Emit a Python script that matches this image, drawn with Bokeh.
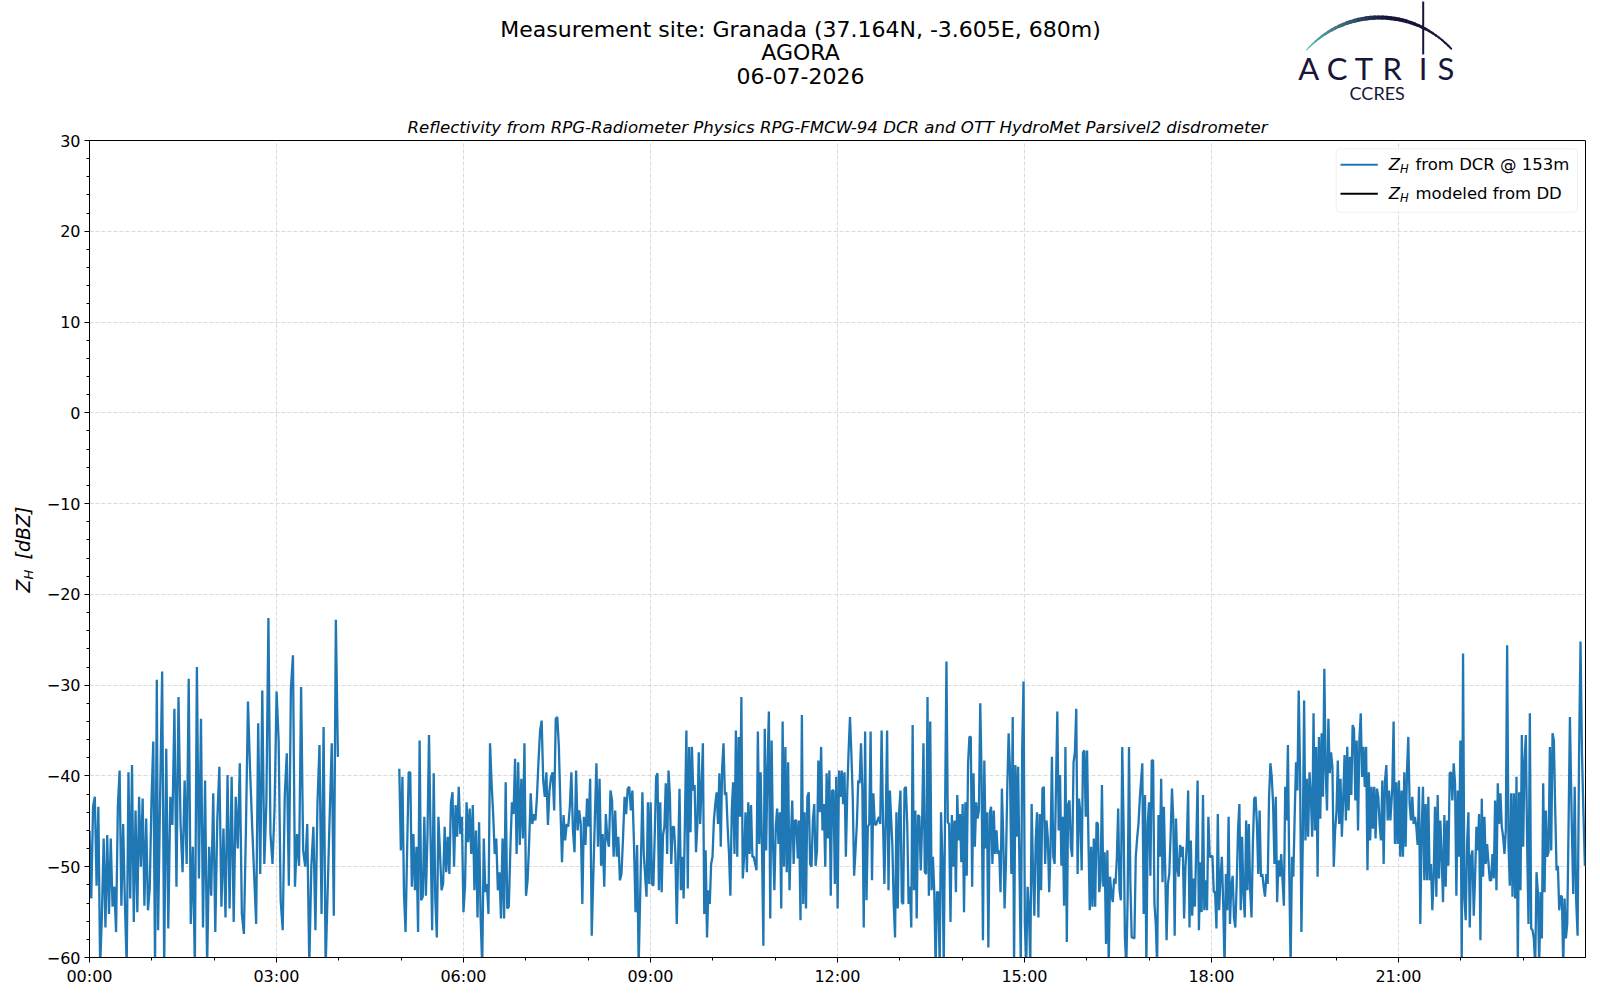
import numpy as np
from bokeh.plotting import figure
from bokeh.models import Range1d, FixedTicker, Label, BoxAnnotation, ColumnDataSource
from bokeh.layouts import column, row
from bokeh.embed import file_html
from bokeh.resources import INLINE
from bokeh.core.properties import value

# ---------------- data ----------------
title_lines = ["Measurement site: Granada (37.164N, -3.605E, 680m)", "AGORA", "06-07-2026"]
subtitle = "Reflectivity from RPG-Radiometer Physics RPG-FMCW-94 DCR and OTT HydroMet Parsivel2 disdrometer"
legend_dcr = "from DCR @ 153m"
legend_dd = "modeled from DD"

# time span (hours of day) of each recorded block of samples
seg_bounds = [(0.0, 1.08), (1.10, 3.985), (4.97, 8.81), (8.87, 12.84),
              (12.88, 16.85), (16.89, 20.87), (20.90, 23.75), (23.78, 23.99)]
gap_after_segment = 1  # no DCR data between ~04:00 and ~05:00

zh_s1a = [-46.0,-53.5,-43.4,-42.3,-52.1,-43.4,-61,-55.4,-46.9,-56.7,-46.5,-55.2,-46.9,-54.4,-52.2,-57.2,-43.4,-39.4,-54.3,-45.3,
          -54.1,-61,-39.6,-53.5,-38.8,-56.1,-43.8,-55.0,-42.3,-50.0,-42.5,-54.3,-44.7,-54.8,-52.4,-42.7,-36.2,-61,-29.4]
zh_s1b = [-57.0,-42.3,-28.5,-61,-37.0,-56.8,-42.3,-45.4,-32.6,-52.2,-31.3,-45.3,-50.6,-40.5,-49.7,-29.3,-56.3,-47.8,-61,-28.0,
          -51.3,-33.7,-56.7,-40.5,-61,-47.8,-53.2,-41.9,-57.2,-44.7,-39.0,-54.4,-45.8,-55.6,-39.9,-54.6,-40.1,-56.1,-42.3,-48.0,
          -38.6,-55.2,-57.4,-45.8,-31.8,-39.2,-45.3,-50.8,-56.3,-34.2,-50.8,-30.6,-49.7,-43.0,-22.6,-46.4,-49.7,-43.6,-30.7,-36.1,
          -53.7,-57.0,-42.1,-37.5,-52.1,-30.4,-26.7,-52.2,-46.4,-49.9,-30.2,-48.2,-50.0,-45.3,-61,-50.0,-45.6,-57.0,-43.0,-36.6,
          -55.2,-34.6,-61,-52.6,-44.2,-36.4,-55.4,-22.8,-37.9]
zh_s2 = [-39.2,-48.2,-40.1,-53.0,-57.2,-48.2,-39.6,-39.6,-52.2,-46.4,-52.6,-47.8,-57.2,-36.1,-53.7,-53.3,-44.5,-53.2,-46.7,-35.5,
         -46.7,-57.0,-39.7,-53.5,-57.8,-44.5,-48.4,-52.6,-51.9,-45.6,-50.6,-46.7,-50.8,-43.0,-41.8,-50.0,-43.2,-46.7,-41.2,-46.4,
         -44.5,-55.0,-52.2,-42.9,-47.3,-43.6,-48.6,-43.2,-52.6,-46.0,-55.6,-45.1,-55.7,-61,-46.9,-52.8,-51.9,-55.2,-36.4,-40.8,
         -44.2,-48.6,-46.9,-52.6,-50.6,-55.7,-46.9,-55.7,-40.7,-54.6,-54.4,-48.0,-42.9,-44.2,-38.1,-48.6,-38.5,-47.6,-40.3,-46.9,
         -36.4,-53.2,-51.5,-47.3,-41.9,-45.3,-44.2,-44.9,-42.3,-38.3,-35.0,-33.9,-40.5,-42.3,-39.6,-45.4,-41.6,-40.1,-39.6,-43.8,
         -33.7,-33.5,-36.8,-43.4,-49.5,-44.3,-47.1,-45.3,-45.6,-43.4,-39.6,-46.0,-48.4,-39.4,-46.0,-43.8,-45.3,-54.1,-44.5,-47.6,
         -42.5,-45.6,-40.3,-57.6,-51.1,-44.7,-38.6,-47.8,-40.3,-49.9,-46.4,-52.2,-44.2,-46.9,-47.8,-41.6,-42.7,-48.9,-43.8,-48.9,
         -46.7,-51.5,-50.8,-46.9,-42.3,-44.2,-41.4,-41.2,-43.8,-41.6,-47.4,-55.0,-47.6,-61]
zh_s3 = [-41.8,-48.6,-51.0,-53.3,-42.9,-51.9,-42.9,-51.9,-52.1,-46.4,-40.1,-39.7,-52.6,-42.9,-52.8,-46.5,-45.6,-40.8,-48.6,-39.4,
         -42.1,-49.7,-45.6,-45.6,-48.6,-56.3,-48.9,-41.4,-52.6,-48.9,-53.5,-44.3,-35.0,-52.4,-36.8,-46.2,-36.8,-41.6,-41.0,-48.4,
         -45.3,-37.4,-45.3,-41.2,-36.4,-55.2,-48.2,-57.8,-52.6,-54.1,-49.7,-48.9,-44.9,-43.1,-41.8,-45.3,-39.7,-47.8,-39.2,-36.4,
         -42.1,-41.8,-45.6,-48.6,-53.2,-43.8,-40.7,-48.6,-35.0,-48.9,-35.7,-44.5,-31.3,-51.3,-48.9,-44.0,-50.6,-42.9,-48.6,-43.2,
         -48.9,-48.9,-49.7,-50.4,-35.1,-47.5,-39.6,-48.0,-58.7,-34.8,-48.2,-39.2,-32.9,-55.7,-36.1,-47.5,-52.6,-45.6,-43.6,-47.5,
         -44.0,-54.6,-34.0,-50.0,-36.8,-50.6,-38.5,-52.6,-46.7,-42.7,-49.7,-44.9,-44.9,-49.1,-44.9,-55.9,-33.3,-54.1,-44.0,-54.6,
         -42.3,-41.8,-49.7,-50.0,-44.9,-43.1,-49.9,-48.2,-38.3,-44.0,-36.8,-46.0,-43.1,-50.0,-39.7,-46.9,-39.4,-53.2,-41.6,-41.6,
         -51.9,-40.1,-54.6,-39.4,-42.3,-39.4,-43.1,-39.6,-48.9,-41.9,-37.2,-33.5,-37.5,-42.3,-51.0,-48.2,-45.3,-40.5,-40.8,-36.4,
         -41.4,-56.7,-35.1,-53.7,-45.6,-45.3,-35.1,-51.5,-41.9,-45.3,-45.4,-44.9,-44.5,-45.3,-35.0,-44.9,-51.9,-44.9,-35.0,-52.6,
         -41.6]
zh_s4 = [-47.6,-54.1,-57.8,-44.0,-54.6,-44.0,-41.6,-53.9,-54.1,-41.4,-41.2,-45.3,-54.1,-52.2,-56.7,-34.4,-52.6,-43.8,-55.7,-44.3,
         -44.5,-50.4,-45.3,-36.4,-50.6,-50.8,-31.3,-53.2,-34.0,-52.6,-48.9,-52.8,-61,-52.8,-52.8,-61,-44.0,-49.1,-61,-43.8,
         -27.4,-45.1,-45.3,-56.1,-44.3,-50.0,-44.9,-52.8,-42.1,-47.1,-44.2,-49.5,-43.1,-55.0,-42.9,-51.0,-38.6,-35.7,-35.7,-52.2,
         -39.7,-47.8,-42.9,-44.7,-43.8,-32.0,-40.1,-58.1,-38.3,-48.0,-44.0,-58.9,-44.2,-43.4,-49.7,-43.8,-48.6,-46.0,-48.6,-48.2,
         -52.8,-41.4,-46.7,-54.6,-49.7,-41.2,-35.3,-39.4,-50.8,-33.5,-61,-38.8,-46.7,-39.0,-50.0,-61,-37.2,-29.6,-56.3,-61,
         -52.2,-54.8,-61,-43.1,-50.4,-55.4,-47.1,-44.0,-55.6,-44.2,-52.6,-41.4,-41.2,-49.7,-44.9,-46.9,-52.8,-47.8,-37.9,-48.9,
         -49.7,-41.2,-32.9,-46.0,-39.9,-49.9,-44.5,-54.3,-36.8,-58.3,-43.1,-42.7,-47.8,-48.9,-38.5,-37.4,-32.6,-50.8,-42.5,-44.0,
         -50.4,-37.4,-37.2,-44.5,-37.2,-47.1,-54.8,-47.8,-54.4,-46.9,-54.4,-45.1,-45.3,-52.8,-51.5,-41.0,-52.2,-48.4,-58.5,-48.2,
         -61,-51.1,-53.0,-53.9,-51.3,-51.9,-49.1,-43.6,-52.6,-53.7,-36.8,-45.3,-57.9,-61,-53.5,-36.8,-51.7,-57.8,-57.8,-57.9,
         -48.9,-46.9,-45.3,-42.5]
zh_s5 = [-38.6,-55.2,-42.1,-61,-45.3,-42.9,-51.0,-38.3,-38.3,-54.1,-56.3,-61,-44.3,-48.9,-40.3,-51.7,-43.4,-50.4,-58.1,-51.9,
         -50.8,-46.5,-41.4,-44.9,-57.6,-44.7,-50.2,-51.1,-47.6,-48.9,-47.8,-55.7,-50.0,-47.5,-41.6,-56.7,-47.1,-55.4,-51.3,-54.4,
         -47.8,-40.5,-57.0,-49.5,-55.0,-42.1,-54.8,-51.5,-54.8,-44.5,-48.9,-48.9,-48.8,-52.8,-52.8,-56.8,-44.2,-54.8,-51.1,-48.9,
         -54.1,-61,-50.8,-54.8,-44.5,-56.3,-52.1,-51.0,-55.6,-56.7,-51.9,-46.0,-43.1,-54.8,-46.7,-53.0,-55.6,-44.9,-52.6,-45.3,
         -52.6,-55.6,-47.5,-42.5,-42.3,-45.3,-50.8,-43.8,-51.1,-50.8,-52.2,-53.3,-50.8,-51.9,-42.3,-38.6,-40.1,-43.1,-49.7,-42.3,
         -53.9,-49.3,-51.1,-48.6,-51.5,-54.3,-41.2,-44.9,-36.6,-50.8,-61,-48.9,-51.1,-44.5,-38.5,-41.6,-30.6,-39.4,-57.2,-47.5,
         -31.7,-47.1,-40.3,-46.7,-39.6,-42.3,-46.7,-33.1,-46.0,-36.8,-51.1,-35.7,-44.7,-35.3,-42.3,-28.2,-39.6,-43.8,-33.7,-39.7,
         -37.4,-39.0,-50.0,-46.0,-44.0,-38.3,-45.3,-40.3,-46.7,-42.5,-37.7,-44.9,-36.8,-43.8,-37.9,-42.1,-34.4,-34.8,-42.7,-36.1,
         -46.0,-36.1,-33.1,-40.1,-36.8,-41.2,-36.8,-50.4,-39.6,-47.1,-41.2,-45.8,-41.2,-46.9,-41.4,-42.3,-45.3,-47.1,-40.5,-49.7,
         -40.5,-38.8,-44.9,-41.6,-44.9]
zh_s6 = [-41.4,-34.0,-47.5,-40.7,-47.5,-40.5,-48.9,-41.6,-48.9,-39.6,-47.8,-39.6,-35.7,-43.1,-44.9,-42.3,-45.3,-44.5,-45.6,-47.6,
         -41.2,-56.3,-46.0,-41.2,-51.5,-43.1,-51.5,-42.3,-51.5,-49.7,-54.8,-51.1,-43.4,-53.3,-42.1,-51.3,-44.9,-48.9,-53.9,-44.3,
         -52.2,-44.9,-49.9,-39.7,-39.6,-42.7,-38.6,-40.8,-53.2,-41.6,-48.9,-36.1,-61,-26.5,-53.5,-55.9,-47.5,-44.0,-56.7,-48.9,
         -48.2,-55.4,-51.1,-45.6,-48.2,-44.2,-58.1,-42.5,-51.1,-44.5,-49.7,-47.5,-49.5,-51.5,-51.5,-48.6,-51.3,-42.7,-52.6,-40.8,
         -45.3,-41.9,-45.6,-46.7,-48.6,-46.0,-25.6,-47.5,-52.1,-41.9,-53.3,-41.9,-53.5,-40.1,-61,-41.8,-52.6,-35.5,-47.8,-38.3,
         -35.5,-47.8,-56.3,-33.1,-56.8,-57.0,-57.9,-61,-50.6,-52.8,-61,-52.8,-57.9,-40.8,-52.8,-43.8,-48.9,-48.4,-36.8,-48.2,
         -35.3,-36.1,-43.8,-50.4,-49.9,-54.8,-53.2,-53.3,-61,-53.5,-57.9,-56.3,-45.3,-33.5]
zh_s7 = [-45.4,-53.0,-41.2,-53.7,-57.6,-37.7,-25.2,-37.5,-44.0,-49.9]
zh_segments = [zh_s1a, zh_s1b, zh_s2, zh_s3, zh_s4, zh_s5, zh_s6, zh_s7]

x_major = [0, 3, 6, 9, 12, 15, 18, 21]
x_minor = list(range(0, 24))
y_major = [-60, -50, -40, -30, -20, -10, 0, 10, 20, 30]
y_minor = list(range(-60, 31, 2))

# ---------------- assemble series ----------------
t_all, z_all = [], []
for i, ((t0, t1), vals) in enumerate(zip(seg_bounds, zh_segments)):
    t_all.extend(np.linspace(t0, t1, len(vals)).tolist())
    z_all.extend(vals)
    if i == gap_after_segment:
        t_all.append(t1 + 0.02)
        z_all.append(float("nan"))
src = ColumnDataSource(dict(t=t_all, zh=z_all))

NAVY = "#17163a"
FONT = "DejaVu Sans"

# page geometry (px)
W = 1600
HDR_H = 112
FRAME_L, FRAME_W, FRAME_R = 89, 1496, 15
FRAME_T, FRAME_H, FRAME_B = 28, 817, 43
YLAB_W = 40
TOP = HDR_H + FRAME_T  # page y of the frame top (140)

# ---------------- header (titles + logo), coordinates = page pixels ----------------
hdr = figure(width=W, height=HDR_H, x_range=Range1d(FRAME_L, FRAME_L + FRAME_W),
             y_range=Range1d(HDR_H, 0), toolbar_location=None, output_backend="svg", title=None,
             x_axis_type=None, y_axis_type=None, min_border_left=FRAME_L, min_border_right=FRAME_R,
             min_border_top=0, min_border_bottom=0, outline_line_color=None)
hdr.xgrid.visible = False
hdr.ygrid.visible = False
hdr.text(x=[800, 800, 800], y=[29, 52, 75], text=title_lines, text_align="center",
         text_baseline="middle", text_font=value(FONT), text_font_size="22px", text_color="black")

# logo arc (decoration)
th = np.linspace(np.radians(138), np.radians(43), 41)
axs = 1379 + 98 * np.cos(th)
ays = 115 - 98 * np.sin(th)
teal = np.array([95, 190, 182])
navy = np.array([23, 22, 58])
xs, ys, cols, wds = [], [], [], []
for i in range(len(th) - 1):
    f = i / (len(th) - 2)
    m = min(f / 0.55, 1.0)
    c = (teal * (1 - m) + navy * m).astype(int)
    cols.append("#%02x%02x%02x" % tuple(c))
    wds.append(1.2 + 2.6 * np.sin(np.pi * min(f * 1.1, 1.0)) + 0.8 * f)
    xs.append([axs[i], axs[i + 1]])
    ys.append([ays[i], ays[i + 1]])
hdr.multi_line(xs=xs, ys=ys, line_color=cols, line_width=wds, line_cap="round")
hdr.segment(x0=[1422.7], y0=[1], x1=[1422.7], y1=[54], line_color=NAVY, line_width=2)
hdr.text(x=[1308.3, 1336.7, 1363.3, 1391.7, 1422.7, 1445.5], y=[67.0] * 6, text=list("ACTRIS"),
         text_align="center", text_baseline="middle", text_font=value("Lato"),
         text_font_size="31px", text_color=NAVY)
hdr.text(x=[1376.7], y=[92.5], text=["CCRES"], text_align="center", text_baseline="middle",
         text_font=value("Lato"), text_font_size="18px", text_color=NAVY)

# ---------------- y label strip, coordinates = page pixels ----------------
ylab = figure(width=YLAB_W, height=FRAME_T + FRAME_H + FRAME_B, x_range=Range1d(0, YLAB_W),
              y_range=Range1d(TOP + FRAME_H, TOP),
              toolbar_location=None, output_backend="svg", title=None,
              x_axis_type=None, y_axis_type=None, min_border_left=0, min_border_right=0,
              min_border_top=FRAME_T, min_border_bottom=FRAME_B, outline_line_color=None)
ylab.xgrid.visible = False
ylab.ygrid.visible = False
ykw = dict(angle=np.pi / 2, text_align="left", text_baseline="middle", text_font=value(FONT),
           text_color="black", text_font_style="italic")
ylab.text(x=[22.5], y=[592], text=["Z"], text_font_size="19px", **ykw)
ylab.text(x=[27.5], y=[579], text=["H"], text_font_size="13px", **ykw)
ylab.text(x=[22.5], y=[559], text=["[dBZ]"], text_font_size="19px", **ykw)

# ---------------- main plot ----------------
p = figure(frame_width=FRAME_W, frame_height=FRAME_H, x_range=Range1d(0, 24), y_range=Range1d(-60, 30),
           toolbar_location=None, output_backend="svg", title=subtitle,
           min_border_left=FRAME_L - YLAB_W, min_border_right=FRAME_R,
           min_border_top=FRAME_T, min_border_bottom=FRAME_B,
           background_fill_color="white", border_fill_color="white")
p.title.align = "center"
p.title.text_font = FONT
p.title.text_font_size = "16.6px"
p.title.text_font_style = "italic"
p.title.text_color = "black"
p.title.standoff = 7
p.line(x="t", y="zh", source=src, line_color="#1f77b4", line_width=2.3)

p.xaxis.ticker = FixedTicker(ticks=x_major, minor_ticks=x_minor)
p.yaxis.ticker = FixedTicker(ticks=y_major, minor_ticks=y_minor)
p.xaxis.major_label_overrides = {h: "%02d:00" % h for h in x_major}
p.yaxis.major_label_overrides = {v: ("\u2212%d" % -v if v < 0 else "%d" % v) for v in y_major}
for ax in (p.xaxis, p.yaxis):
    ax.axis_line_color = "black"
    ax.axis_line_width = 1
    ax.major_tick_in = 0
    ax.major_tick_out = 5
    ax.minor_tick_in = 0
    ax.minor_tick_out = 3
    ax.major_tick_line_color = "black"
    ax.minor_tick_line_color = "black"
    ax.major_label_text_font = FONT
    ax.major_label_text_font_size = "16px"
    ax.major_label_text_color = "black"
    ax.major_label_standoff = 4
p.outline_line_color = "black"
p.outline_line_width = 1
p.outline_line_alpha = 1
for g in (p.xgrid, p.ygrid):
    g.grid_line_color = "#d0d0d0"
    g.grid_line_dash = "4 2"
    g.grid_line_width = 0.8

# legend (manual, to allow subscripts); screen units relative to the frame
p.add_layout(BoxAnnotation(left=1246.7, right=1488, bottom=745.3, top=808.7,
                           left_units="screen", right_units="screen",
                           top_units="screen", bottom_units="screen",
                           fill_color="white", fill_alpha=0.8, line_color="#cccccc",
                           line_width=1, border_radius=4, level="overlay"))
for yc, col, txt in [(792.7, "#1f77b4", legend_dcr), (763.7, "black", legend_dd)]:
    p.add_layout(BoxAnnotation(left=1251, right=1288.3, bottom=yc - 1, top=yc + 1,
                               left_units="screen", right_units="screen",
                               top_units="screen", bottom_units="screen",
                               fill_color=col, fill_alpha=1, line_color=None, level="overlay"))
    kw = dict(x_units="screen", y_units="screen", text_baseline="middle", text_font=FONT,
              text_color="black", level="overlay")
    p.add_layout(Label(x=1299.3, y=yc, text="Z", text_font_size="16.5px",
                       text_font_style="italic", **kw))
    p.add_layout(Label(x=1310.5, y=yc - 4, text="H", text_font_size="11.5px",
                       text_font_style="italic", **kw))
    p.add_layout(Label(x=1326, y=yc, text=txt, text_font_size="16.5px", **kw))

layout = column(hdr, row(ylab, p, spacing=0), spacing=0)
open("out.html", "w").write(file_html(layout, INLINE))
